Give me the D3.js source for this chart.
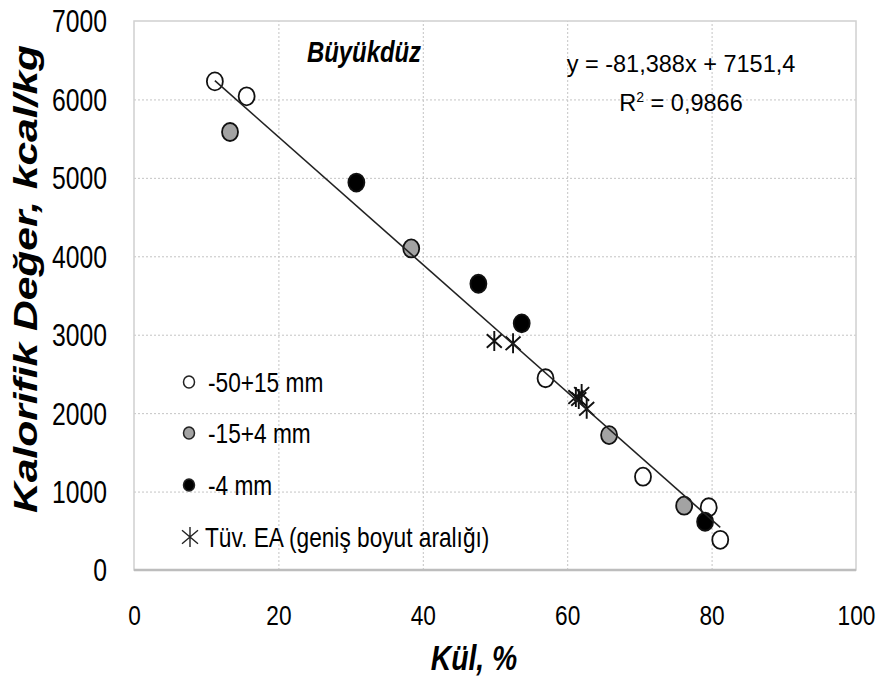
<!DOCTYPE html>
<html>
<head>
<meta charset="utf-8">
<script src="https://cdn.jsdelivr.net/npm/d3@7"></script>
<style>
  html, body { margin: 0; padding: 0; background: #fff; }
  svg { display: block; }
  text { font-family: "Liberation Sans", Arial, sans-serif; fill: #000; }
</style>
</head>
<body>
<svg id="chart" width="882" height="686"></svg>
<script>
// Ash content (%) vs. calorific value (kcal/kg), Büyükdüz coal
const xTicks = [0, 20, 40, 60, 80, 100];
const yTicks = [0, 1000, 2000, 3000, 4000, 5000, 6000, 7000];

// -50+15 mm
const coarseAsh = [11.2, 15.6, 57.0, 70.5, 79.6, 81.2];
const coarseCal = [6230, 6040, 2445, 1190, 800, 385];
// -15+4 mm
const mediumAsh = [13.3, 38.4, 65.8, 76.2];
const mediumCal = [5585, 4100, 1720, 820];
// -4 mm
const fineAsh = [30.8, 47.7, 53.7, 79.1];
const fineCal = [4940, 3650, 3145, 615];
// Tüv. EA (geniş boyut aralığı)
const tuvAsh = [49.9, 52.5, 61.2, 61.6, 62.0, 62.7];
const tuvCal = [2920, 2890, 2205, 2180, 2245, 2055];

// Linear trend: y = -81,388x + 7151,4
const slope = -81.388;
const intercept = 7151.4;
const trendRange = [11.2, 81.2];

const legendLabels = ["-50+15 mm", "-15+4 mm", "-4 mm", "Tüv. EA (geniş boyut aralığı)"];

const svg = d3.select("#chart");
const plotL = 134, plotR = 856, plotT = 21, plotB = 570;
const SQ = 0.81;   // horizontal squeeze for the condensed lettering

const x = d3.scaleLinear().domain([0, 100]).range([plotL, plotR]);
const y = d3.scaleLinear().domain([0, 7000]).range([plotB, plotT]);

// Condense a text element horizontally around its anchor point
function squeeze(sel, sx) {
  sel.each(function () {
    const t = d3.select(this);
    const tx = +t.attr("x") || 0, ty = +t.attr("y") || 0;
    t.attr("x", 0).attr("y", 0)
     .attr("transform", `translate(${tx},${ty}) scale(${sx},1)`);
  });
}

// Grid lines
svg.append("g")
  .attr("transform", `translate(0,${plotB})`)
  .call(d3.axisBottom(x).tickValues(xTicks.slice(1, -1)).tickSize(-(plotB - plotT)).tickFormat(""))
  .call(g => g.select(".domain").remove())
  .call(g => g.selectAll("line").attr("stroke", "#c4c4c4").attr("stroke-dasharray", "2,2"));
svg.append("g")
  .attr("transform", `translate(${plotL},0)`)
  .call(d3.axisLeft(y).tickValues(yTicks.slice(1, -1)).tickSize(-(plotR - plotL)).tickFormat(""))
  .call(g => g.select(".domain").remove())
  .call(g => g.selectAll("line").attr("stroke", "#c4c4c4").attr("stroke-dasharray", "2,2"));

// Plot frame
svg.append("rect")
  .attr("x", plotL).attr("y", plotT)
  .attr("width", plotR - plotL).attr("height", plotB - plotT)
  .attr("fill", "none").attr("stroke", "#d0d0d0").attr("stroke-width", 1.5);
svg.append("line")
  .attr("x1", plotL).attr("x2", plotR).attr("y1", plotB).attr("y2", plotB)
  .attr("stroke", "#bdbdbd").attr("stroke-width", 2.5);

// Tick labels
const xAxis = svg.append("g")
  .attr("transform", `translate(0,${plotB})`)
  .call(d3.axisBottom(x).tickValues(xTicks).tickSize(0).tickFormat(d3.format("d")));
xAxis.select(".domain").remove();
xAxis.selectAll("text")
  .attr("y", 55).attr("dy", null)
  .attr("font-size", 28)
  .call(squeeze, SQ);

const yAxis = svg.append("g")
  .attr("transform", `translate(${plotL},0)`)
  .call(d3.axisLeft(y).tickValues(yTicks).tickSize(0).tickPadding(27).tickFormat(d3.format("d")));
yAxis.select(".domain").remove();
yAxis.selectAll("text")
  .attr("dy", "0.36em")
  .attr("font-size", 30.5)
  .call(squeeze, SQ);

// Axis titles
svg.append("text")
  .attr("x", 474).attr("y", 670)
  .attr("text-anchor", "middle")
  .attr("font-size", 35).attr("font-weight", "bold").attr("font-style", "italic")
  .text("Kül, %")
  .call(squeeze, SQ);

svg.append("text")
  .attr("transform", "translate(37,279) rotate(-90) scale(1.27,1)")
  .attr("text-anchor", "middle")
  .attr("font-size", 33.5).attr("font-weight", "bold").attr("font-style", "italic")
  .text("Kalorifik Değer, kcal/kg");

// Title inside plot
svg.append("text")
  .attr("x", 364).attr("y", 62)
  .attr("text-anchor", "middle")
  .attr("font-size", 29.5).attr("font-weight", "bold").attr("font-style", "italic")
  .text("Büyükdüz")
  .call(squeeze, SQ);

// Star marker path (vertical bar + diagonal cross)
function starPath(cx, cy, h, w) {
  const hx = w / 2, hy = h / 2, dy = h * 0.34;
  return `M${cx},${cy - hy}L${cx},${cy + hy}` +
         `M${cx - hx},${cy - dy}L${cx + hx},${cy + dy}` +
         `M${cx - hx},${cy + dy}L${cx + hx},${cy - dy}`;
}

// Data markers
const marks = svg.append("g");
function circles(ax, cal, fill) {
  marks.selectAll(null)
    .data(d3.zip(ax, cal))
    .join("ellipse")
    .attr("cx", d => x(d[0])).attr("cy", d => y(d[1]))
    .attr("rx", 8).attr("ry", 9)
    .attr("fill", fill).attr("stroke", "#111").attr("stroke-width", 1.8);
}
circles(coarseAsh, coarseCal, "#fff");
circles(mediumAsh, mediumCal, "#a3a3a3");
circles(fineAsh, fineCal, "#000");
marks.selectAll(null)
  .data(d3.zip(tuvAsh, tuvCal))
  .join("path")
  .attr("d", d => starPath(x(d[0]), y(d[1]), 20, 15))
  .attr("fill", "none").attr("stroke", "#111").attr("stroke-width", 1.9);

// Trend line
svg.append("line")
  .attr("x1", x(trendRange[0])).attr("y1", y(slope * trendRange[0] + intercept))
  .attr("x2", x(trendRange[1])).attr("y2", y(slope * trendRange[1] + intercept))
  .attr("stroke", "#222").attr("stroke-width", 1.6);

// Trend equation
svg.append("text")
  .attr("x", 681).attr("y", 72)
  .attr("text-anchor", "middle")
  .attr("font-size", 23.5)
  .text("y = -81,388x + 7151,4");
const r2 = svg.append("text")
  .attr("x", 681).attr("y", 111)
  .attr("text-anchor", "middle")
  .attr("font-size", 23.5);
r2.append("tspan").text("R");
r2.append("tspan").attr("dy", -9).attr("font-size", 14).text("2");
r2.append("tspan").attr("dy", 9).text(" = 0,9866");

// Legend
const legendY = [382, 433, 485, 537];
const legend = svg.append("g");
const legendFill = ["#fff", "#a3a3a3", "#000"];
legendFill.forEach((f, i) => {
  legend.append("ellipse")
    .attr("cx", 189).attr("cy", legendY[i]).attr("rx", 5.5).attr("ry", 6)
    .attr("fill", f).attr("stroke", "#222").attr("stroke-width", 1.5);
});
legend.append("path")
  .attr("d", starPath(190, legendY[3], 20, 16))
  .attr("fill", "none").attr("stroke", "#222").attr("stroke-width", 1.4);
legendLabels.forEach((t, i) => {
  legend.append("text")
    .attr("x", i === 3 ? 205 : 208).attr("y", legendY[i])
    .attr("dy", "0.36em")
    .attr("font-size", 28)
    .text(t)
    .call(squeeze, SQ);
});
</script>
</body>
</html>
